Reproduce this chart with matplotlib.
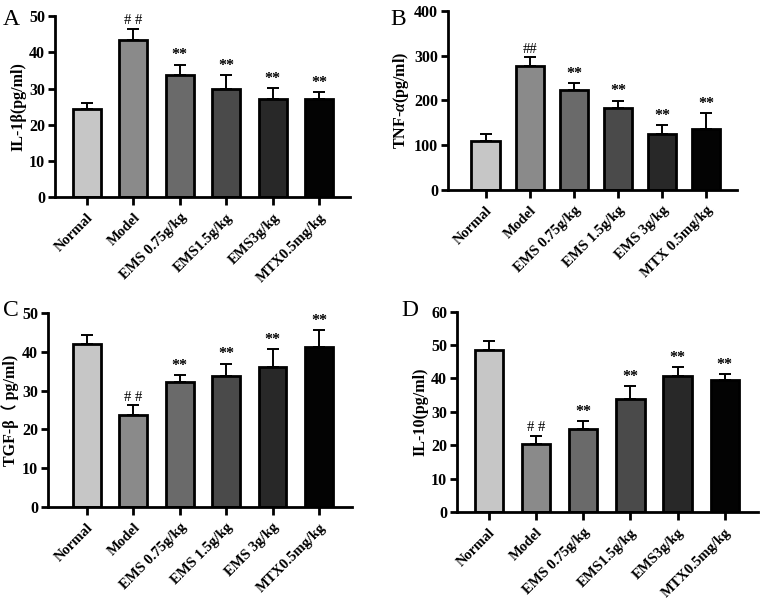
"""Four-panel cytokine bar chart"""
import matplotlib
matplotlib.use("Agg")
import matplotlib.pyplot as plt

plt.rcParams['font.family'] = ['Liberation Serif', 'Noto Sans CJK SC', 'DejaVu Sans']
plt.rcParams['mathtext.fontset'] = 'custom'
plt.rcParams['mathtext.rm'] = 'Liberation Serif'
plt.rcParams['mathtext.it'] = 'Liberation Serif:italic:bold'
plt.rcParams['mathtext.bf'] = 'Liberation Serif:bold'

bar_colors = ["#c6c6c6", "#8a8a8a", "#6a6a6a", "#4a4a4a", "#282828", "#030303"]

# panel A
labels_a = ["Normal", "Model", "EMS 0.75g/kg", "EMS1.5g/kg", "EMS3g/kg", "MTX0.5mg/kg"]
mean_a = [24.5, 43.4, 33.8, 29.9, 27.2, 27.2]
sd_a = [1.5, 3.2, 2.8, 3.8, 3.0, 1.9]
marks_a = ["", "# #", "**", "**", "**", "**"]

# panel B
labels_b = ["Normal", "Model", "EMS 0.75g/kg", "EMS 1.5g/kg", "EMS 3g/kg", "MTX 0.5mg/kg"]
mean_b = [109, 276, 224, 184, 126, 136]
sd_b = [17, 21, 14, 15, 18, 36]
marks_b = ["", "##", "**", "**", "**", "**"]

# panel C
labels_c = ["Normal", "Model", "EMS 0.75g/kg", "EMS 1.5g/kg", "EMS 3g/kg", "MTX0.5mg/kg"]
mean_c = [42.1, 23.6, 32.1, 33.8, 36.0, 41.3]
sd_c = [2.1, 2.6, 1.9, 3.1, 4.7, 4.2]
marks_c = ["", "# #", "**", "**", "**", "**"]

# panel D
labels_d = ["Normal", "Model", "EMS 0.75g/kg", "EMS1.5g/kg", "EMS3g/kg", "MTX0.5mg/kg"]
mean_d = [48.4, 20.4, 25.0, 33.8, 40.8, 39.5]
sd_d = [2.8, 2.4, 2.2, 3.8, 2.5, 1.7]
marks_d = ["", "# #", "**", "**", "**", "**"]


def draw_panel(ax, labels, means, sds, marks, ylabel, ymax, step, xlim, width):
    x = list(range(len(means)))
    ax.bar(x, means, width=width, color=bar_colors, edgecolor="black", linewidth=2, zorder=2)
    ax.errorbar(x, means, yerr=[[0] * len(sds), sds], fmt="none", ecolor="black",
                elinewidth=1.4, capsize=4, capthick=1.4, zorder=1)
    for xi, m, s, t in zip(x, means, sds, marks):
        if t:
            weight = "bold" if "*" in t else "normal"
            ax.annotate(t, (xi, m + s), xytext=(0, 1), textcoords="offset points",
                        ha="center", va="bottom", fontsize=11.5 if "*" in t else 10.5,
                        fontweight=weight)
    ax.set_xlim(*xlim)
    ax.set_ylim(0, ymax)
    ax.set_yticks(range(0, ymax + 1, step))
    ax.set_xticks(x)
    ax.set_xticklabels(labels, rotation=45, ha="right", rotation_mode="anchor",
                       fontsize=10.5, fontweight="bold")
    for lbl in ax.get_yticklabels():
        lbl.set_fontweight("bold")
        lbl.set_fontsize(11.5)
    ax.set_ylabel(ylabel, fontsize=11.5, fontweight="bold", labelpad=2)
    for side in ("top", "right"):
        ax.spines[side].set_visible(False)
    for side in ("left", "bottom"):
        ax.spines[side].set_linewidth(2)
    ax.tick_params(width=2, length=5, pad=2)
    ax.tick_params(axis="x", length=6, pad=4)


fig = plt.figure(figsize=(7.6, 6.03), dpi=100)

ax_a = fig.add_axes([0.072, 0.673, 0.389, 0.300])
draw_panel(ax_a, labels_a, mean_a, sd_a, marks_a, "IL-1β(pg/ml)", 50, 10, (-0.69, 5.67), 0.6)

ax_b = fig.add_axes([0.589, 0.685, 0.381, 0.297])
draw_panel(ax_b, labels_b, mean_b, sd_b, marks_b, r"TNF-$\mathit{α}$(pg/ml)", 400, 100,
           (-0.86, 5.7), 0.64)

ax_c = fig.add_axes([0.063, 0.159, 0.400, 0.322])
draw_panel(ax_c, labels_c, mean_c, sd_c, marks_c, "TGF-β（ pg/ml)", 50, 10, (-0.84, 5.71), 0.6)

ax_d = fig.add_axes([0.601, 0.151, 0.396, 0.332])
draw_panel(ax_d, labels_d, mean_d, sd_d, marks_d, "IL-10(pg/ml)", 60, 10, (-0.68, 5.7), 0.6)

for letter, lx, ly in [("A", 0.004, 0.985), ("B", 0.513, 0.985), ("C", 0.004, 0.502), ("D", 0.528, 0.502)]:
    fig.text(lx, ly, letter, fontsize=17, va="top", ha="left")

fig.savefig("out.png", dpi=100)
